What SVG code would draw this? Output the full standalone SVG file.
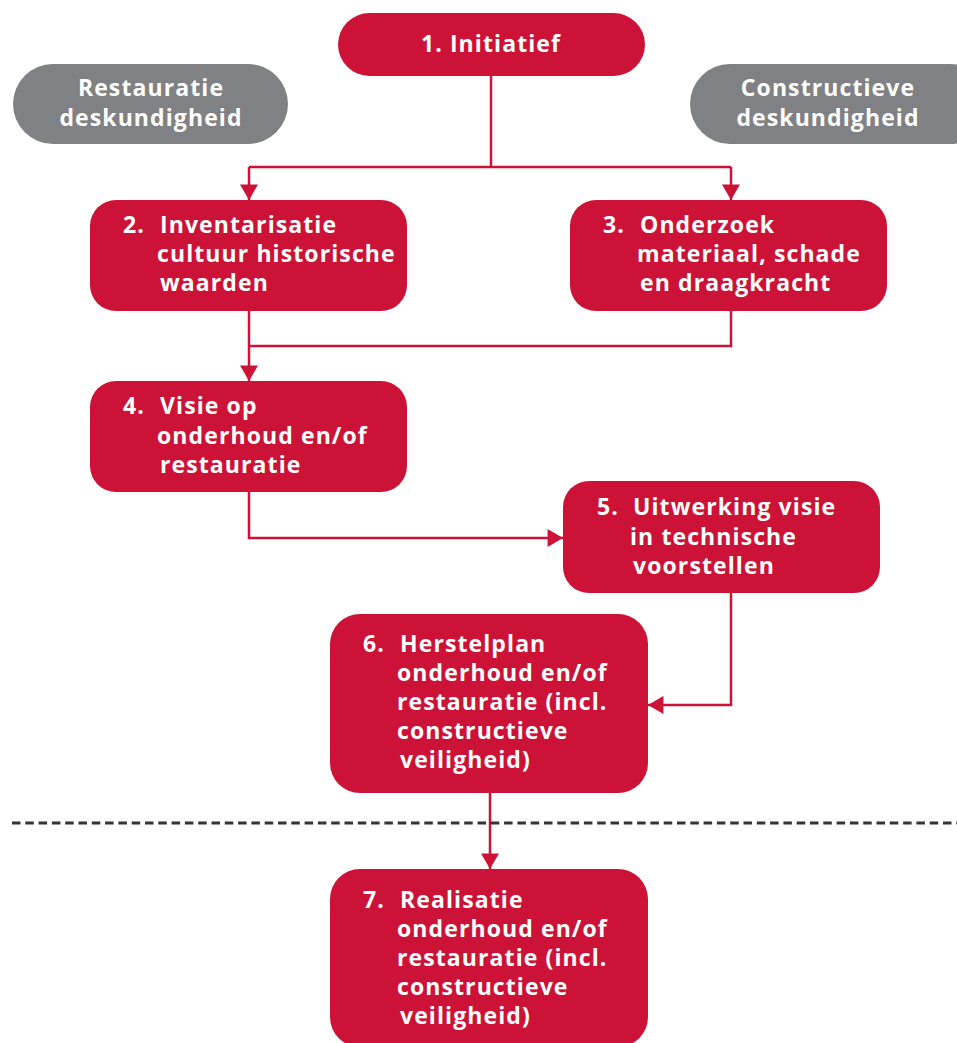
<svg xmlns="http://www.w3.org/2000/svg" width="957" height="1043" viewBox="0 0 957 1043">
<style>
.red{fill:#CC1337}
.gray{fill:#808184}
.t{font-family:"Open Sans","Liberation Sans",sans-serif;font-weight:700;font-size:23px;letter-spacing:1.1px;fill:#ffffff}
.c{text-anchor:middle}
.ln{fill:none;stroke:#CC1337;stroke-width:2.5}
.dash{fill:none;stroke:#333333;stroke-width:2.8;stroke-dasharray:8.5 4.8}
</style>
<defs>
<marker id="ah" markerWidth="21" markerHeight="18" refX="18" refY="10.5" orient="auto" markerUnits="userSpaceOnUse" viewBox="0 0 18 21">
<path d="M0,0 L18,10.5 L0,21 Z" fill="#CC1337"/>
</marker>
</defs>
<g id="connectors">
<polyline class="ln" points="491,76 491,167"/>
<polyline class="ln" points="249,167 731,167"/>
<polyline class="ln" points="731,167 731,200" marker-end="url(#ah)"/>
<polyline class="ln" points="249,167 249,200" marker-end="url(#ah)"/>
<polyline class="ln" points="731,311 731,346 249,346"/>
<polyline class="ln" points="249,311 249,381" marker-end="url(#ah)"/>
<polyline class="ln" points="249,492 249,538 563,538" marker-end="url(#ah)"/>
<polyline class="ln" points="731,593 731,705 648,705" marker-end="url(#ah)"/>
<polyline class="ln" points="490,793 490,869" marker-end="url(#ah)"/>
<line class="dash" x1="12" y1="823" x2="957" y2="823"/>
</g>
<g id="n1">
<rect class="red" x="338" y="13" width="307" height="63" rx="31.5"/>
<text class="t c" x="491" y="52">1. Initiatief</text>
</g>
<g id="restauratie">
<rect class="gray" x="13" y="64" width="275" height="80" rx="40"/>
<text class="t c" x="151" y="96">Restauratie</text>
<text class="t c" x="151" y="126">deskundigheid</text>
</g>
<g id="constructieve">
<rect class="gray" x="690" y="64" width="300" height="80" rx="40"/>
<text class="t c" x="828" y="96">Constructieve</text>
<text class="t c" x="828" y="126">deskundigheid</text>
</g>
<g id="n2">
<rect class="red" x="90" y="200" width="317" height="111" rx="26"/>
<text class="t" x="123" y="233">2.</text>
<text class="t" x="160" y="233">Inventarisatie</text>
<text class="t" x="157" y="262">cultuur historische</text>
<text class="t" x="160" y="291">waarden</text>
</g>
<g id="n3">
<rect class="red" x="570" y="200" width="317" height="111" rx="26"/>
<text class="t" x="603" y="233">3.</text>
<text class="t" x="640" y="233">Onderzoek</text>
<text class="t" x="637" y="262">materiaal, schade</text>
<text class="t" x="640" y="291">en draagkracht</text>
</g>
<g id="n4">
<rect class="red" x="90" y="381" width="317" height="111" rx="26"/>
<text class="t" x="123" y="414">4.</text>
<text class="t" x="160" y="414">Visie op</text>
<text class="t" x="157" y="444">onderhoud en/of</text>
<text class="t" x="160" y="473">restauratie</text>
</g>
<g id="n5">
<rect class="red" x="563" y="481" width="317" height="112" rx="26"/>
<text class="t" x="597" y="515">5.</text>
<text class="t" x="633" y="515">Uitwerking visie</text>
<text class="t" x="630" y="545">in technische</text>
<text class="t" x="633" y="574">voorstellen</text>
</g>
<g id="n6">
<rect class="red" x="330" y="614" width="318" height="179" rx="30"/>
<text class="t" x="363" y="652">6.</text>
<text class="t" x="400" y="652">Herstelplan</text>
<text class="t" x="397" y="681">onderhoud en/of</text>
<text class="t" x="397" y="710">restauratie (incl.</text>
<text class="t" x="397" y="739">constructieve</text>
<text class="t" x="400" y="768">veiligheid)</text>
</g>
<g id="n7">
<rect class="red" x="330" y="869" width="318" height="178" rx="30"/>
<text class="t" x="363" y="908">7.</text>
<text class="t" x="400" y="908">Realisatie</text>
<text class="t" x="397" y="937">onderhoud en/of</text>
<text class="t" x="397" y="966">restauratie (incl.</text>
<text class="t" x="397" y="995">constructieve</text>
<text class="t" x="400" y="1024">veiligheid)</text>
</g>
</svg>
